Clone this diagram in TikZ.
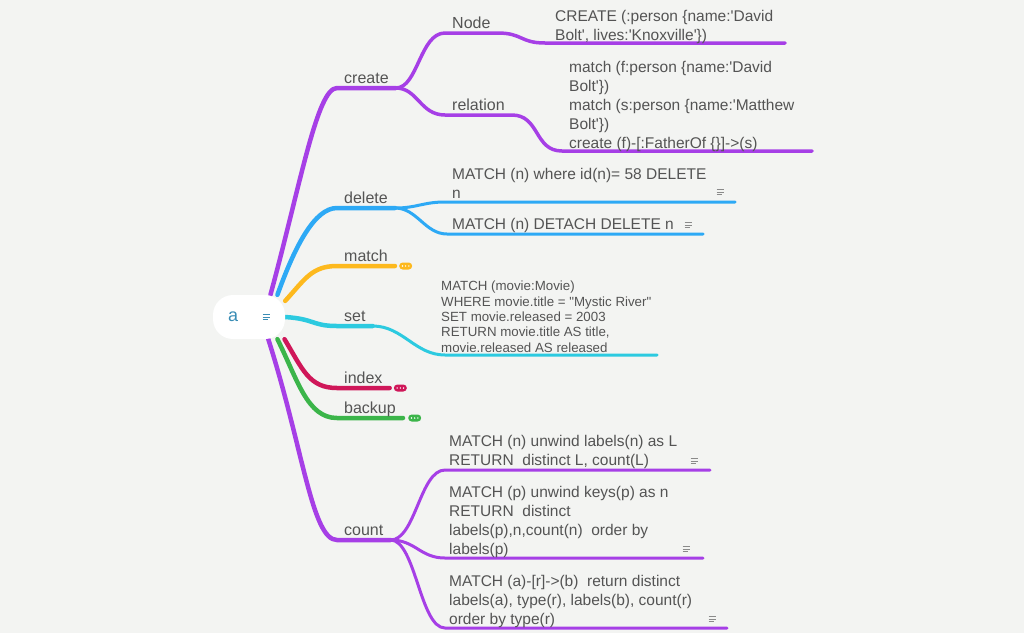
\documentclass[tikz,border=0pt]{standalone}
\usepackage{fontspec}
\setmainfont{Liberation Sans}
\usepackage{tikz}
\usetikzlibrary{positioning}
\pgfdeclarelayer{lines}
\pgfsetlayers{lines,main}
\definecolor{bgc}{HTML}{F3F4F2}
\definecolor{textc}{HTML}{545454}
\definecolor{rootc}{HTML}{3A8DB5}
\definecolor{iconc}{HTML}{8A8A8A}
\definecolor{purplec}{HTML}{A63FE6}
\definecolor{bluec}{HTML}{2DA9F5}
\definecolor{yellowc}{HTML}{FDB91E}
\definecolor{cyanc}{HTML}{2CCAE0}
\definecolor{crimsonc}{HTML}{CF1759}
\definecolor{greenc}{HTML}{3BB54A}
\newcommand\sqt{\textquotesingle}
\newcommand\dqt{\textquotedbl}

\begin{document}
\begin{tikzpicture}[x=1pt,y=-1pt,
	root/.style={fill=white,rounded corners=20pt,minimum width=72pt,minimum height=44pt,inner sep=0pt,text=rootc,font=\fontsize{18}{20}\selectfont},
	branch/.style={anchor=south west,inner xsep=7pt,inner ysep=4pt,text depth=0pt,text=textc,font=\fontsize{16}{19}\selectfont},
	leaf/.style={anchor=north west,inner sep=0pt,align=left,text=textc,font=\fontsize{15.5}{19}\selectfont},
	pill/.style={minimum width=13pt,minimum height=7pt,inner sep=0pt,rounded corners=3.5pt,
		path picture={\foreach \d in {-3.2,0,3.2} \fill[white] ([xshift=\d pt]path picture bounding box.center) circle (0.8pt);}},
	stem/.style={line width=4.5pt,line cap=round},
	twig/.style={line width=3.5pt,line cap=round},
	leafline/.style={line width=3pt,line cap=round},
	noteicon/.pic={\draw[line width=0.9pt] (-3.5,-2.4) -- (3.5,-2.4) (-3.5,0) -- (3.5,0) (-3.5,2.4) -- (1.5,2.4);}
	]
	\useasboundingbox (0,0) rectangle (1024,633);
	\begin{pgfonlayer}{lines}
		\fill[bgc] (0,0) rectangle (1024,633);
	\end{pgfonlayer}

	\node[root] (a) at (249,317) {\makebox[42pt][l]{a}};
	\pic[color=rootc] at (266,317) {noteicon};

	\node[branch] (create) at (337,88) {create};
	\node[branch] (crnode) at (445,33) {Node};
	\node[branch] (rel) at (445,115) {relation};
	\node[branch] (delete) at (337,208) {delete};
	\node[branch] (match) at (337,266) {match};
	\node[branch] (set) at (337,326) {set};
	\node[branch] (index) at (337,388) {index};
	\node[branch] (backup) at (337,418) {backup};
	\node[branch] (count) at (337,540) {count};

	\node[pill,fill=yellowc,right=4pt of match.south east] (matchmore) {};
	\node[pill,fill=crimsonc,right=4pt of index.south east] (indexmore) {};
	\node[pill,fill=greenc,right=5pt of backup.south east] (backupmore) {};

	\node[leaf] (crq) at (555,10) {CREATE (:person \{name:\sqt David\\Bolt\sqt, lives:\sqt Knoxville\sqt\})};
	\node[leaf] (relq) at (569,61) {match (f:person \{name:\sqt David\\Bolt\sqt\})\\match (s:person \{name:\sqt Matthew\\Bolt\sqt\})\\create (f)-[:FatherOf \{\}]->(s)};
	\node[leaf] (del1q) at (452,168) {MATCH (n) where id(n)= 58 DELETE\\n};
	\node[leaf] (del2q) at (452,218) {MATCH (n) DETACH DELETE n};
	\node[leaf,font=\fontsize{13.3}{15.3}\selectfont] (setq) at (441,281) {MATCH (movie:Movie)\\WHERE movie.title = \dqt Mystic River\dqt\\SET movie.released = 2003\\RETURN movie.title AS title,\\movie.released AS released};
	\node[leaf] (cnt1q) at (449,435) {MATCH (n) unwind labels(n) as L\\RETURN\ \ distinct L, count(L)};
	\node[leaf] (cnt2q) at (449,486) {MATCH (p) unwind keys(p) as n\\RETURN\ \ distinct\\labels(p),n,count(n)\ \ order by\\labels(p)};
	\node[leaf] (cnt3q) at (449,575) {MATCH (a)-[r]->(b)\ \ return distinct\\labels(a), type(r), labels(b), count(r)\\order by type(r)};

	\foreach \x/\y in {720/192,688/225,694/461,686/549,712/619}
		\pic[color=iconc] at (\x,\y) {noteicon};

	\coordinate (crq-s) at (545,43);   \coordinate (crq-e) at (785,43);
	\coordinate (relq-s) at (562,151); \coordinate (relq-e) at (812,151);
	\coordinate (del1-s) at (445,202); \coordinate (del1-e) at (735,202);
	\coordinate (del2-s) at (447,234); \coordinate (del2-e) at (703,234);
	\coordinate (set-s) at (445,355);  \coordinate (set-e) at (657,355);
	\coordinate (cnt1-s) at (445,470); \coordinate (cnt1-e) at (710,470);
	\coordinate (cnt2-s) at (445,558); \coordinate (cnt2-e) at (703,558);
	\coordinate (cnt3-s) at (445,628); \coordinate (cnt3-e) at (727,628);

	\begin{pgfonlayer}{lines}
		\draw[stem,purplec] (a.46) .. controls +(30,-110) and +(-20,0) .. (create.south west) -- (create.south east);
		\draw[twig,purplec] (create.south east) .. controls +(22,0) and +(-25,0) .. (crnode.south west) -- (crnode.south east)
			.. controls +(25,0) and +(-25,0) .. (crq-s) -- (crq-e);
		\draw[twig,purplec] (create.south east) .. controls +(22,0) and +(-25,0) .. (rel.south west) -- (rel.south east)
			.. controls +(28,0) and +(-28,0) .. (relq-s) -- (relq-e);
		\draw[stem,bluec] (a.38) .. controls +(18,-50) and +(-22,0) .. (delete.south west) -- (delete.south east);
		\foreach \c in {del1,del2}
			\draw[leafline,bluec] (delete.south east) .. controls +(22,0) and +(-22,0) .. (\c-s) -- (\c-e);
		\draw[stem,yellowc] (a.24) .. controls +(20,-22) and +(-25,0) .. (match.south west) -- (match.south east);
		\draw[stem,cyanc] (a.east) .. controls +(30,2) and +(-25,0) .. (set.south west) -- (set.south east);
		\draw[leafline,cyanc] (set.south east) .. controls +(30,0) and +(-30,0) .. (set-s) -- (set-e);
		\draw[stem,crimsonc] (a.-32) .. controls +(18,30) and +(-28,0) .. (index.south west) -- (index.south east);
		\draw[stem,greenc] (a.-38) .. controls +(20,40) and +(-30,0) .. (backup.south west) -- (backup.south east);
		\draw[stem,purplec] (a.-49) .. controls +(35,110) and +(-25,0) .. (count.south west) -- (count.south east);
		\foreach \c in {cnt1,cnt2,cnt3}
			\draw[leafline,purplec] (count.south east) .. controls +(25,0) and +(-25,0) .. (\c-s) -- (\c-e);
	\end{pgfonlayer}
\end{tikzpicture}
\end{document}
